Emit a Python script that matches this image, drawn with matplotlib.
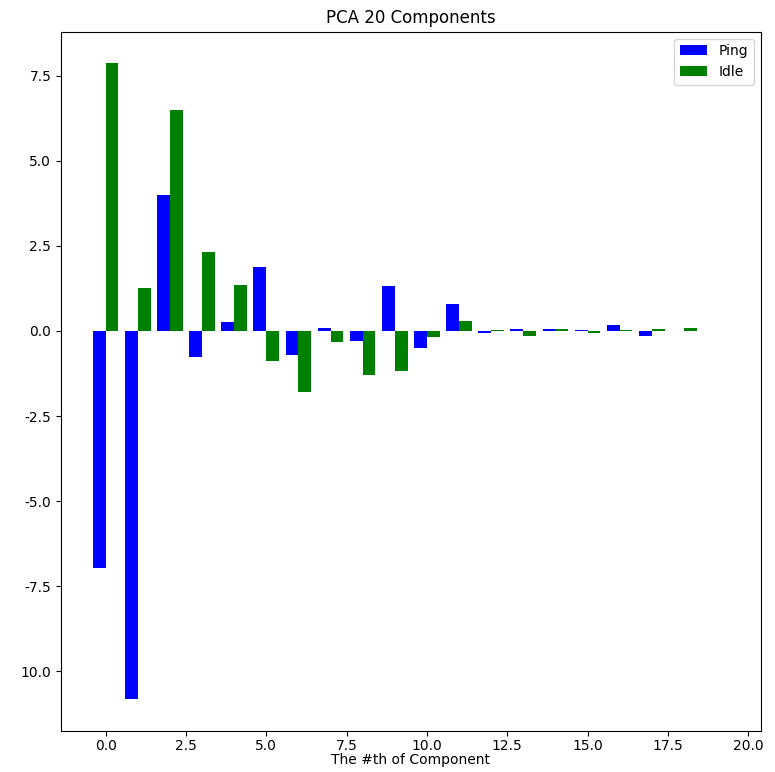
import numpy as np
import matplotlib
matplotlib.use("Agg")
import matplotlib.pyplot as plt

components = np.arange(20)
ping = [-6.97, -10.82, 3.99, -0.75, 0.27, 1.88, -0.70, 0.08, -0.28, 1.31,
        -0.50, 0.78, -0.07, 0.05, 0.05, 0.02, 0.18, -0.15, 0.0, 0.0]
idle = [7.86, 1.27, 6.48, 2.31, 1.34, -0.89, -1.78, -0.32, -1.28, -1.18,
        -0.18, 0.28, 0.03, -0.14, 0.05, -0.07, 0.02, 0.05, 0.10, 0.0]
ytick_vals = [-10.0, -7.5, -5.0, -2.5, 0.0, 2.5, 5.0, 7.5]
ytick_labels = ["10.0", "-7.5", "-5.0", "-2.5", "0.0", "2.5", "5.0", "7.5"]

fig = plt.figure(figsize=(7.75, 7.72), dpi=100)
ax = fig.add_axes([0.0787, 0.0530, 0.9028, 0.9060])
w = 0.4
ax.bar(components - w / 2, ping, width=w, color="blue", label="Ping")
ax.bar(components + w / 2, idle, width=w, color="green", label="Idle")
ax.set_yticks(ytick_vals)
ax.set_yticklabels(ytick_labels)
ax.tick_params(axis="x", pad=2.5)
ax.set_title("PCA 20 Components")
ax.set_xlabel("The #th of Component", labelpad=0)
ax.legend(loc="upper right")
fig.savefig("out.png", dpi=100)
